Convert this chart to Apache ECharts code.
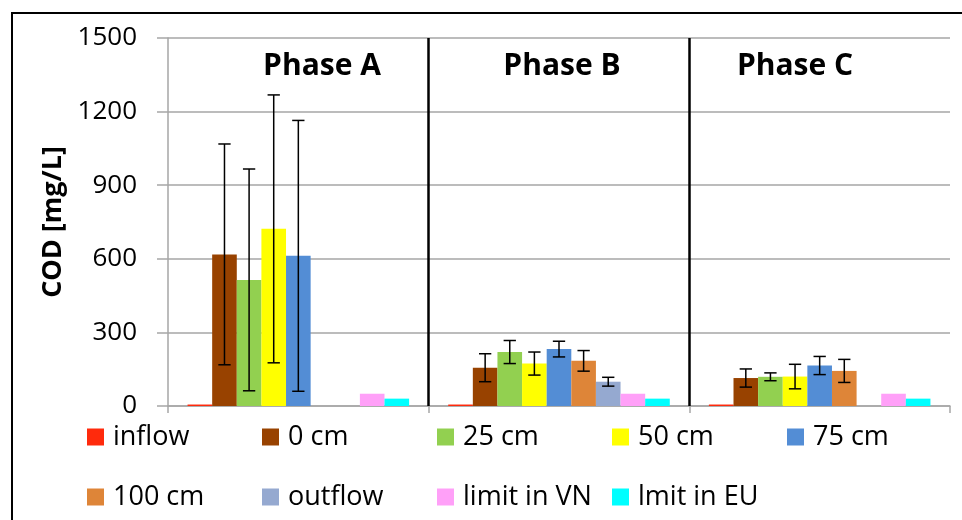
<!DOCTYPE html>
<html>
<head>
<meta charset="utf-8">
<script src="https://cdn.jsdelivr.net/npm/echarts@6/dist/echarts.min.js"></script>
<style>
  html, body { margin: 0; padding: 0; background: #fff; }
  #chart { width: 962px; height: 520px; }
</style>
</head>
<body>
<div id="chart"></div>
<script>
// COD by sampling depth, three operating phases
const phases = ['Phase A', 'Phase B', 'Phase C'];
const seriesNames = ['inflow', '0 cm', '25 cm', '50 cm', '75 cm', '100 cm', 'outflow', 'limit in VN', 'lmit in EU'];
const seriesColors = ['#FF2A0C', '#984200', '#92D050', '#FFFF00', '#538DD5', '#DE8538', '#95A9D0', '#FFA0F8', '#00FFFF'];

// mean values per phase (mg/L), '-' = not measured
const inflow   = [6, 6, 6];
const cm0      = [618, 156, 114];
const cm25     = [514, 220, 119];
const cm50     = [722, 173, 120];
const cm75     = [612, 232, 165];
const cm100    = ['-', 184, 143];
const outflow  = ['-', 99, '-'];
const limitVN  = [50, 50, 50];
const limitEU  = [30, 30, 30];

// standard deviations per phase (mg/L)
const errInflow  = [null, null, null];
const errCm0     = [450, 57, 37];
const errCm25    = [452, 47, 16];
const errCm50    = [546, 47, 50];
const errCm75    = [552, 32, 37];
const errCm100   = [null, 42, 47];
const errOutflow = [null, 18, null];
const errVN      = [null, null, null];
const errEU      = [null, null, null];

const yTicks = [0, 300, 600, 900, 1200, 1500];

const values = [inflow, cm0, cm25, cm50, cm75, cm100, outflow, limitVN, limitEU];
const errors = [errInflow, errCm0, errCm25, errCm50, errCm75, errCm100, errOutflow, errVN, errEU];

const CAT_GAP = 0.15;
const FONT = '"Open Sans", "DejaVu Sans", sans-serif';

const chart = echarts.init(document.getElementById('chart'), null, { renderer: 'canvas' });

const barSeries = seriesNames.map((name, i) => ({
  name,
  type: 'bar',
  data: values[i],
  barGap: '0%',
  barCategoryGap: (CAT_GAP * 100) + '%',
  itemStyle: { color: seriesColors[i] },
  animation: false,
  z: 2
}));

// error bars drawn over each bar, offset to the bar's slot in the group
const errorSeries = [];
seriesNames.forEach((name, i) => {
  const pts = [];
  errors[i].forEach((e, k) => {
    if (e != null && values[i][k] !== '-') pts.push([k, values[i][k], e]);
  });
  if (!pts.length) return;
  errorSeries.push({
    type: 'custom',
    name: name + ' sd',
    data: pts,
    encode: { x: 0, y: 1 },
    z: 5,
    silent: true,
    animation: false,
    renderItem: function (params, api) {
      const band = api.size([1, 0])[0];
      const bw = band * (1 - CAT_GAP) / seriesNames.length;
      const cat = api.value(0), v = api.value(1), e = api.value(2);
      const hi = api.coord([cat, v + e]);
      const lo = api.coord([cat, v - e]);
      const x = hi[0] + (i - (seriesNames.length - 1) / 2) * bw;
      const cap = bw / 4;
      const st = { stroke: '#000', lineWidth: 1.5 };
      return {
        type: 'group',
        children: [
          { type: 'line', shape: { x1: x, y1: hi[1], x2: x, y2: lo[1] }, style: st },
          { type: 'line', shape: { x1: x - cap, y1: hi[1], x2: x + cap, y2: hi[1] }, style: st },
          { type: 'line', shape: { x1: x - cap, y1: lo[1], x2: x + cap, y2: lo[1] }, style: st }
        ]
      };
    }
  });
});

// vertical separators between phases, on a hidden linear axis spanning the groups
const separatorSeries = {
  type: 'line',
  name: 'phase separators',
  xAxisIndex: 1,
  data: [],
  silent: true,
  animation: false,
  markLine: {
    silent: true,
    symbol: ['none', 'none'],
    label: { show: false },
    lineStyle: { color: '#000', width: 2.5, type: 'solid' },
    data: [{ xAxis: 1 }, { xAxis: 2 }],
    animation: false
  }
};

const legends = seriesNames.map((name, k) => {
  const row = k < 5 ? 0 : 1;
  const col = k < 5 ? k : k - 5;
  return {
    data: [name],
    left: 87 + col * 175,
    top: row === 0 ? 422 : 482,
    padding: 0,
    icon: 'rect',
    itemWidth: 17,
    itemHeight: 17,
    selectedMode: false,
    textStyle: { fontFamily: FONT, fontSize: 27, color: '#000', lineHeight: 30, padding: [0, 0, 0, 4] }
  };
});

const option = {
  backgroundColor: '#fff',
  animation: false,
  grid: { left: 168, right: 12, top: 38, bottom: 114, containLabel: false },
  legend: legends,
  xAxis: [
    {
      type: 'category',
      data: phases,
      axisLine: { show: true, lineStyle: { color: '#A6A6A6', width: 1.5 } },
      axisTick: { show: true, length: 7, lineStyle: { color: '#A6A6A6', width: 1.5 } },
      axisLabel: { show: false },
      splitLine: { show: false }
    },
    {
      type: 'value',
      min: 0,
      max: 3,
      show: false
    }
  ],
  yAxis: {
    type: 'value',
    min: yTicks[0],
    max: yTicks[yTicks.length - 1],
    interval: yTicks[1] - yTicks[0],
    name: 'COD [mg/L]',
    nameLocation: 'middle',
    nameGap: 97,
    nameTextStyle: { fontFamily: FONT, fontSize: 27, fontWeight: 'bold', color: '#000' },
    axisLine: { show: true, lineStyle: { color: '#A6A6A6', width: 1.5 } },
    axisTick: { show: true, length: 11, lineStyle: { color: '#A6A6A6', width: 1.5 } },
    axisLabel: { fontFamily: FONT, fontSize: 26, color: '#000', margin: 31, formatter: v => String(v) },
    splitLine: { show: true, lineStyle: { color: '#A6A6A6', width: 1.5 } }
  },
  graphic: [
    {
      type: 'rect',
      silent: true,
      shape: { x: 12, y: 13, width: 980, height: 540 },
      style: { fill: 'none', stroke: '#000', lineWidth: 2 },
      z: 100
    },
    { type: 'text', x: 322, y: 66, silent: true,
      style: { text: 'Phase A', font: 'bold 30px ' + FONT, fill: '#000', textAlign: 'center', textVerticalAlign: 'middle' } },
    { type: 'text', x: 562, y: 66, silent: true,
      style: { text: 'Phase B', font: 'bold 30px ' + FONT, fill: '#000', textAlign: 'center', textVerticalAlign: 'middle' } },
    { type: 'text', x: 795, y: 66, silent: true,
      style: { text: 'Phase C', font: 'bold 30px ' + FONT, fill: '#000', textAlign: 'center', textVerticalAlign: 'middle' } }
  ],
  series: [...barSeries, ...errorSeries, separatorSeries]
};

chart.setOption(option);
</script>
</body>
</html>
